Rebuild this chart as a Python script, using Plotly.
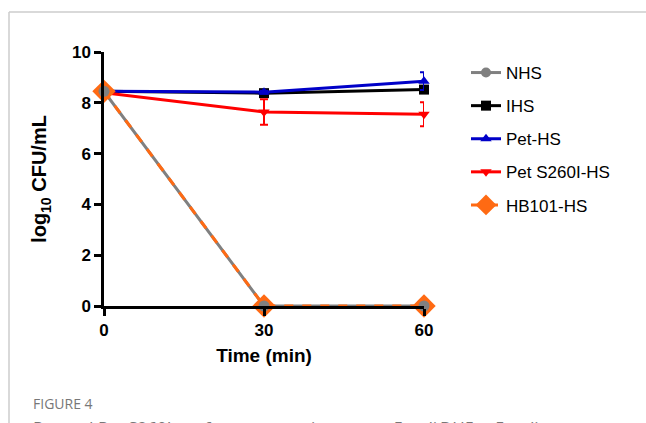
import plotly.graph_objects as go

time_min = [0, 30, 60]
nhs = [8.45, 0.0, 0.0]
ihs = [8.45, 8.38, 8.52]
ihs_err = [0.05, 0.12, 0.08]
pet_hs = [8.45, 8.42, 8.85]
pet_hs_err = [0.05, 0.05, 0.35]
pet_s260i = [8.4, 7.64, 7.55]
pet_s260i_err = [0.05, 0.5, 0.47]
hb101 = [8.45, 0.0, 0.0]

FONT = "Liberation Sans, Arial, sans-serif"
W, H = 646, 423
L, R, T, B = 104, 424, 52, 306  # plot area in pixels


def px(x):
    return (x - L) / (R - L)


def py(y):
    return (B - y) / (B - T)


fig = go.Figure()

fig.add_trace(go.Scatter(
    x=time_min, y=nhs, name="NHS", legendgroup="a", mode="lines+markers",
    line=dict(color="#808080", width=3),
    marker=dict(symbol="circle", size=10, color="#808080"), cliponaxis=False))
fig.add_trace(go.Scatter(
    x=time_min, y=ihs, name="IHS", legendgroup="b", mode="lines+markers",
    line=dict(color="#000000", width=3),
    marker=dict(symbol="square", size=10, color="#000000"),
    error_y=dict(type="data", array=ihs_err, color="#000000", thickness=2, width=4),
    cliponaxis=False))
fig.add_trace(go.Scatter(
    x=time_min, y=pet_hs, name="Pet-HS", legendgroup="c", mode="lines+markers",
    line=dict(color="#0000C8", width=3),
    marker=dict(symbol="triangle-up", size=10, color="#0000C8"),
    error_y=dict(type="data", array=pet_hs_err, color="#0000C8", thickness=2, width=4),
    cliponaxis=False))
fig.add_trace(go.Scatter(
    x=time_min, y=pet_s260i, name="Pet S260I-HS", legendgroup="d", mode="lines+markers",
    line=dict(color="#FF0000", width=3),
    marker=dict(symbol="triangle-down", size=10, color="#FF0000"),
    error_y=dict(type="data", array=pet_s260i_err, color="#FF0000", thickness=2, width=4),
    cliponaxis=False))
fig.add_trace(go.Scatter(
    x=time_min, y=hb101, name="HB101-HS", legendgroup="e", mode="lines+markers",
    line=dict(color="#FF6A13", width=3, dash="dash"),
    marker=dict(symbol="diamond", size=18, color="#FF6A13"), cliponaxis=False))
fig.add_trace(go.Scatter(
    x=time_min, y=nhs, name="NHS", legendgroup="a", showlegend=False, mode="markers",
    marker=dict(symbol="circle", size=11, color="#808080"), cliponaxis=False))

fig.update_layout(
    width=W, height=H,
    margin=dict(l=L, r=W - R, t=T, b=H - B, pad=0),
    paper_bgcolor="white", plot_bgcolor="white",
    font=dict(family=FONT, color="#000000"),
    xaxis=dict(
        range=[0, 60], tickvals=[0, 30, 60], showgrid=False, zeroline=False,
        showline=True, linecolor="#000000", linewidth=2.5,
        ticks="outside", ticklen=7, tickwidth=2.5, tickcolor="#000000",
        tickfont=dict(family=FONT, size=17, weight="bold"),
        title=dict(text="Time (min)", font=dict(family=FONT, size=19, weight="bold"), standoff=10),
    ),
    yaxis=dict(
        range=[0, 10], tickvals=[0, 2, 4, 6, 8, 10], showgrid=False, zeroline=False,
        showline=True, linecolor="#000000", linewidth=2.5,
        ticks="outside", ticklen=7, tickwidth=2.5, tickcolor="#000000",
        tickfont=dict(family=FONT, size=17, weight="bold"),
        title=dict(text="log<sub>10</sub> CFU/mL", font=dict(family=FONT, size=20, weight="bold"), standoff=20),
    ),
    legend=dict(
        x=px(466), y=py(55), xanchor="left", yanchor="top",
        font=dict(family=FONT, size=17, color="#000000"),
        traceorder="grouped", tracegroupgap=8, bgcolor="rgba(0,0,0,0)",
    ),
    showlegend=True,
)

# page frame lines
fig.add_shape(type="line", xref="paper", yref="paper",
              x0=px(9), x1=px(646), y0=py(12), y1=py(12),
              line=dict(color="#CCCCCC", width=1.5))
fig.add_shape(type="line", xref="paper", yref="paper",
              x0=px(9), x1=px(9), y0=py(12), y1=py(423),
              line=dict(color="#CCCCCC", width=1.5))

fig.add_annotation(text="FIGURE 4", xref="paper", yref="paper",
                   x=px(31), y=py(403), xanchor="left", yanchor="middle",
                   showarrow=False, font=dict(family="Open Sans, sans-serif", size=14, color="#777777"))
fig.add_annotation(text="Pet and Pet S260I confer serum resistance to <i>E. coli</i> DH5α. <i>E. coli</i>",
                   xref="paper", yref="paper",
                   x=px(31), y=py(427), xanchor="left", yanchor="middle",
                   showarrow=False, font=dict(family="Open Sans, sans-serif", size=17, color="#777777"))

fig.write_html("out.html", config={"displayModeBar": False},
               post_script="document.body.style.margin='0';")
